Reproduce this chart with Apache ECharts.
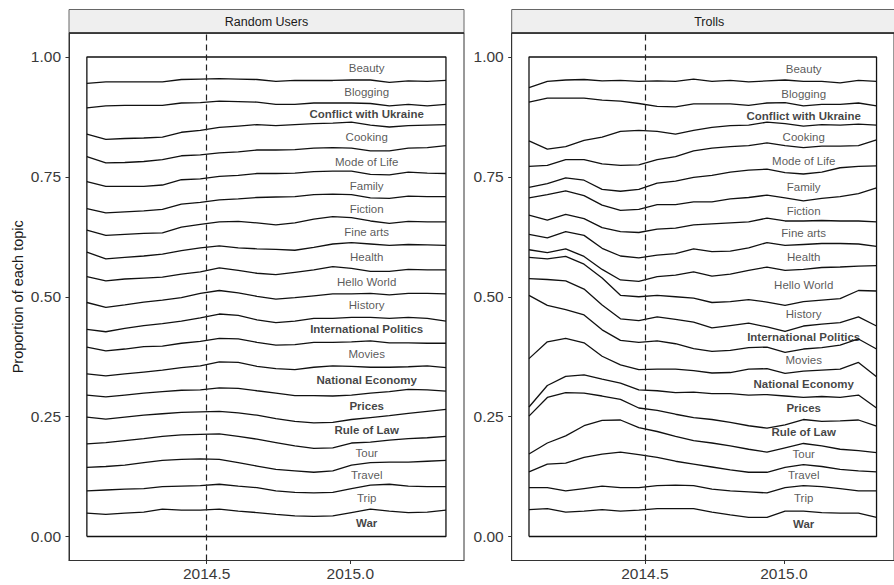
<!DOCTYPE html>
<html>
<head>
<meta charset="utf-8">
<script src="https://cdn.jsdelivr.net/npm/echarts@6/dist/echarts.min.js"></script>
<style>html,body{margin:0;padding:0;background:#fff}#c{width:894px;height:585px}</style>
</head>
<body>
<div id="c"></div>
<script>
// ---- data ----
const dates = [2014.083, 2014.149, 2014.215, 2014.281, 2014.346, 2014.412, 2014.478, 2014.544, 2014.610, 2014.675,
               2014.741, 2014.807, 2014.873, 2014.939, 2015.004, 2015.070, 2015.136, 2015.202, 2015.268, 2015.333];
const topics = ['Beauty', 'Blogging', 'Conflict with Ukraine', 'Cooking', 'Mode of Life', 'Family', 'Fiction',
                'Fine arts', 'Health', 'Hello World', 'History', 'International Politics', 'Movies',
                'National Economy', 'Prices', 'Rule of Law', 'Tour', 'Travel', 'Trip', 'War'];
const boldTopics = ['Conflict with Ukraine', 'International Politics', 'National Economy', 'Prices', 'Rule of Law', 'War'];
const panels = ['Random Users', 'Trolls'];
const eventDate = 2014.5;
const xTicks = [2014.5, 2015.0];
const yTicks = [0, 0.25, 0.5, 0.75, 1];

// proportion of each topic (rows follow `topics`)
const randomUsers = [
  [0.058,0.054,0.052,0.051,0.050,0.049,0.047,0.047,0.048,0.049,0.049,0.049,0.051,0.050,0.049,0.049,0.050,0.051,0.051,0.049],
  [0.051,0.050,0.049,0.049,0.049,0.049,0.049,0.047,0.047,0.047,0.048,0.050,0.047,0.047,0.048,0.049,0.049,0.049,0.051,0.050],
  [0.055,0.070,0.069,0.068,0.066,0.061,0.058,0.055,0.051,0.047,0.044,0.042,0.043,0.042,0.040,0.045,0.044,0.044,0.040,0.042],
  [0.047,0.049,0.050,0.049,0.047,0.049,0.051,0.053,0.054,0.053,0.051,0.052,0.051,0.051,0.054,0.054,0.050,0.047,0.047,0.044],
  [0.052,0.049,0.050,0.052,0.053,0.050,0.050,0.049,0.049,0.049,0.049,0.049,0.049,0.049,0.048,0.049,0.050,0.050,0.053,0.058],
  [0.056,0.055,0.053,0.051,0.051,0.051,0.049,0.049,0.049,0.050,0.049,0.049,0.048,0.048,0.049,0.049,0.049,0.050,0.049,0.048],
  [0.045,0.047,0.047,0.047,0.049,0.048,0.046,0.046,0.047,0.053,0.058,0.055,0.051,0.047,0.048,0.048,0.052,0.053,0.053,0.053],
  [0.046,0.049,0.048,0.047,0.044,0.049,0.049,0.050,0.055,0.054,0.051,0.057,0.059,0.057,0.052,0.048,0.046,0.048,0.048,0.049],
  [0.051,0.046,0.045,0.046,0.048,0.049,0.050,0.046,0.047,0.051,0.053,0.046,0.047,0.047,0.054,0.057,0.054,0.052,0.052,0.051],
  [0.054,0.055,0.054,0.050,0.048,0.049,0.045,0.047,0.047,0.048,0.051,0.053,0.054,0.057,0.053,0.046,0.049,0.050,0.049,0.050],
  [0.056,0.051,0.049,0.049,0.049,0.049,0.051,0.049,0.047,0.049,0.049,0.049,0.047,0.051,0.049,0.050,0.049,0.050,0.052,0.057],
  [0.037,0.040,0.043,0.044,0.047,0.046,0.049,0.051,0.049,0.047,0.047,0.049,0.050,0.050,0.051,0.049,0.051,0.053,0.052,0.046],
  [0.056,0.052,0.052,0.053,0.050,0.051,0.051,0.049,0.049,0.050,0.049,0.052,0.052,0.049,0.051,0.055,0.051,0.050,0.047,0.051],
  [0.044,0.044,0.044,0.044,0.045,0.047,0.050,0.054,0.054,0.051,0.051,0.054,0.059,0.063,0.060,0.054,0.051,0.047,0.050,0.049],
  [0.046,0.046,0.046,0.046,0.046,0.046,0.046,0.049,0.051,0.051,0.053,0.054,0.057,0.055,0.051,0.051,0.050,0.050,0.045,0.038],
  [0.056,0.049,0.049,0.049,0.047,0.047,0.047,0.047,0.049,0.050,0.050,0.051,0.053,0.053,0.049,0.051,0.051,0.053,0.055,0.056],
  [0.049,0.050,0.051,0.050,0.050,0.051,0.051,0.053,0.055,0.056,0.056,0.052,0.050,0.048,0.046,0.043,0.046,0.049,0.049,0.050],
  [0.049,0.049,0.050,0.054,0.055,0.056,0.056,0.052,0.049,0.045,0.045,0.045,0.043,0.045,0.049,0.047,0.046,0.050,0.053,0.055],
  [0.046,0.051,0.050,0.049,0.047,0.050,0.051,0.052,0.052,0.052,0.049,0.049,0.049,0.049,0.050,0.050,0.056,0.055,0.053,0.049],
  [0.049,0.046,0.049,0.051,0.057,0.055,0.055,0.057,0.053,0.050,0.046,0.043,0.042,0.043,0.050,0.057,0.053,0.050,0.051,0.055]
];
const trolls = [
  [0.065,0.053,0.048,0.049,0.051,0.051,0.051,0.051,0.050,0.048,0.050,0.051,0.052,0.051,0.050,0.050,0.053,0.054,0.050,0.049],
  [0.030,0.035,0.038,0.039,0.040,0.043,0.046,0.053,0.053,0.052,0.047,0.049,0.049,0.046,0.047,0.051,0.048,0.045,0.047,0.051],
  [0.081,0.106,0.101,0.088,0.077,0.063,0.056,0.052,0.057,0.055,0.049,0.045,0.041,0.040,0.044,0.042,0.042,0.043,0.044,0.040],
  [0.053,0.034,0.027,0.040,0.056,0.071,0.072,0.059,0.047,0.043,0.043,0.044,0.043,0.043,0.046,0.045,0.045,0.044,0.045,0.031],
  [0.044,0.038,0.038,0.043,0.053,0.054,0.051,0.049,0.051,0.055,0.057,0.053,0.051,0.055,0.056,0.055,0.054,0.045,0.043,0.054],
  [0.022,0.023,0.027,0.032,0.033,0.040,0.042,0.045,0.049,0.051,0.055,0.056,0.057,0.054,0.053,0.056,0.055,0.060,0.057,0.046],
  [0.036,0.053,0.049,0.048,0.047,0.044,0.048,0.051,0.049,0.048,0.046,0.050,0.051,0.048,0.048,0.042,0.046,0.051,0.057,0.071],
  [0.040,0.037,0.036,0.035,0.043,0.051,0.053,0.054,0.053,0.050,0.058,0.059,0.054,0.051,0.051,0.049,0.048,0.047,0.048,0.051],
  [0.032,0.031,0.036,0.044,0.044,0.050,0.049,0.045,0.045,0.048,0.051,0.048,0.047,0.051,0.052,0.052,0.050,0.049,0.046,0.040],
  [0.016,0.013,0.016,0.016,0.018,0.032,0.032,0.039,0.045,0.055,0.055,0.057,0.061,0.073,0.073,0.067,0.068,0.066,0.051,0.053],
  [0.044,0.043,0.051,0.052,0.056,0.049,0.050,0.045,0.047,0.050,0.053,0.050,0.049,0.052,0.054,0.051,0.050,0.050,0.055,0.073],
  [0.035,0.054,0.060,0.054,0.052,0.045,0.045,0.050,0.051,0.055,0.049,0.052,0.051,0.042,0.044,0.048,0.049,0.047,0.046,0.048],
  [0.132,0.076,0.060,0.058,0.055,0.051,0.057,0.059,0.053,0.046,0.045,0.046,0.045,0.045,0.044,0.046,0.047,0.050,0.049,0.058],
  [0.101,0.091,0.079,0.067,0.048,0.038,0.042,0.045,0.049,0.045,0.043,0.044,0.054,0.054,0.047,0.055,0.055,0.059,0.068,0.065],
  [0.019,0.025,0.034,0.038,0.035,0.034,0.038,0.041,0.045,0.053,0.054,0.060,0.064,0.070,0.060,0.046,0.052,0.049,0.052,0.038],
  [0.079,0.095,0.090,0.068,0.051,0.043,0.041,0.044,0.046,0.048,0.049,0.049,0.049,0.050,0.048,0.050,0.051,0.059,0.064,0.055],
  [0.037,0.044,0.057,0.066,0.070,0.067,0.056,0.054,0.052,0.049,0.050,0.050,0.048,0.042,0.041,0.044,0.043,0.042,0.042,0.040],
  [0.033,0.049,0.058,0.065,0.067,0.074,0.069,0.059,0.050,0.045,0.046,0.044,0.041,0.043,0.042,0.044,0.042,0.040,0.042,0.040],
  [0.046,0.044,0.044,0.047,0.049,0.049,0.047,0.048,0.049,0.048,0.048,0.050,0.053,0.051,0.049,0.053,0.054,0.051,0.046,0.055],
  [0.056,0.058,0.051,0.053,0.056,0.053,0.055,0.058,0.058,0.058,0.051,0.045,0.040,0.040,0.053,0.053,0.050,0.049,0.049,0.040]
];
const labelDates = [2015.057, 2015.071];

// ---- chart ----
const FONT = '"Liberation Sans", Arial, Helvetica, sans-serif';
const panelData = [randomUsers, trolls];
const gridBoxes = [
  {left: 69, top: 33, width: 395, height: 527.5},
  {left: 511.7, top: 33, width: 395, height: 527.5}
];
const chart = echarts.init(document.getElementById('c'), null, {renderer: 'svg'});

// stack topic proportions bottom-up (War first): returns upper edge of each topic per date
function stackUpper(values) {
  const upper = topics.map(() => []);
  dates.forEach((d, i) => {
    let run = 0;
    for (let k = topics.length - 1; k >= 0; k--) {
      run += values[k][i];
      upper[k][i] = run;
    }
  });
  return upper;
}

function labelItems(values, upper, lx) {
  let j = 0;
  while (j < dates.length - 2 && dates[j + 1] <= lx) j++;
  const t = (lx - dates[j]) / (dates[j + 1] - dates[j]);
  return topics.map((name, k) => {
    const hi = upper[k][j] + (upper[k][j + 1] - upper[k][j]) * t;
    const v = values[k][j] + (values[k][j + 1] - values[k][j]) * t;
    const bold = boldTopics.indexOf(name) >= 0;
    return {
      value: [lx, hi - v / 2],
      name: name,
      label: {fontWeight: bold ? 'bold' : 'normal', color: bold ? '#111' : '#2e2e2e'}
    };
  });
}

const grid = [], xAxis = [], yAxis = [], series = [], graphic = [];
gridBoxes.forEach((g, p) => {
  grid.push(Object.assign({show: true, borderColor: '#333', borderWidth: 1, backgroundColor: 'transparent', containLabel: false}, g));
  xAxis.push({
    type: 'value', gridIndex: p, min: 2014.0208, max: 2015.3958,
    axisLine: {show: true, onZero: false, lineStyle: {color: '#333', width: 1}},
    axisTick: {show: true, customValues: xTicks, length: 3.5, lineStyle: {color: '#333'}},
    axisLabel: {customValues: xTicks, formatter: v => v.toFixed(1), fontSize: 15.5, color: '#3a3a3a', fontFamily: FONT, margin: 5},
    splitLine: {show: false}
  });
  yAxis.push({
    type: 'value', gridIndex: p, min: -0.05, max: 1.05,
    name: p === 0 ? 'Proportion of each topic' : '',
    nameLocation: 'middle', nameGap: 44, nameRotate: 90,
    nameTextStyle: {fontSize: 14.5, color: '#1a1a1a', fontFamily: FONT},
    axisLine: {show: true, onZero: false, lineStyle: {color: '#333', width: 1}},
    axisTick: {show: true, customValues: yTicks, length: 3.5, lineStyle: {color: '#333'}},
    axisLabel: {customValues: yTicks, formatter: v => v.toFixed(2), fontSize: 15.5, color: '#3a3a3a', fontFamily: FONT, margin: 8},
    splitLine: {show: false}
  });
  const values = panelData[p];
  const upper = stackUpper(values);
  // boundary lines: upper edge of every topic except the top one (Beauty), which is the frame
  for (let k = topics.length - 1; k >= 1; k--) {
    series.push({
      type: 'line', name: topics[k], xAxisIndex: p, yAxisIndex: p,
      data: dates.map((d, i) => [d, upper[k][i]]),
      symbol: 'none', silent: true, animation: false, z: 3,
      lineStyle: {color: '#111', width: 1.3}
    });
  }
  const x0 = dates[0], x1 = dates[dates.length - 1];
  series.push({
    type: 'line', name: 'frame' + p, xAxisIndex: p, yAxisIndex: p,
    data: [[x0, 0], [x0, 1], [x1, 1], [x1, 0], [x0, 0]],
    symbol: 'none', silent: true, animation: false, z: 4,
    lineStyle: {color: '#111', width: 1.3},
    markLine: {
      symbol: ['none', 'none'], silent: true, animation: false,
      label: {show: false},
      lineStyle: {type: [6, 4], color: '#222', width: 1.2},
      data: [{xAxis: eventDate}]
    }
  });
  series.push({
    type: 'scatter', name: 'labels' + p, xAxisIndex: p, yAxisIndex: p,
    symbolSize: 0, silent: true, animation: false, z: 6,
    label: {show: true, position: 'inside', formatter: prm => prm.name, fontSize: 11.5, fontFamily: FONT},
    data: labelItems(values, upper, labelDates[p])
  });
  graphic.push({
    type: 'rect', z: 50,
    shape: {x: g.left, y: 9.5, width: g.width, height: 23.5},
    style: {fill: '#efefef', stroke: '#666', lineWidth: 1}
  });
  graphic.push({
    type: 'line', z: 51,
    shape: {x1: g.left, y1: 33, x2: g.left + g.width, y2: 33},
    style: {stroke: '#222', lineWidth: 1.6}
  });
  graphic.push({
    type: 'text', z: 52,
    style: {text: panels[p], x: g.left + g.width / 2, y: 21.5, textAlign: 'center', textVerticalAlign: 'middle',
            font: '12.5px ' + FONT, fill: '#1a1a1a'}
  });
});

chart.setOption({
  animation: false,
  backgroundColor: '#fff',
  grid, xAxis, yAxis, series, graphic
});
</script>
</body>
</html>
